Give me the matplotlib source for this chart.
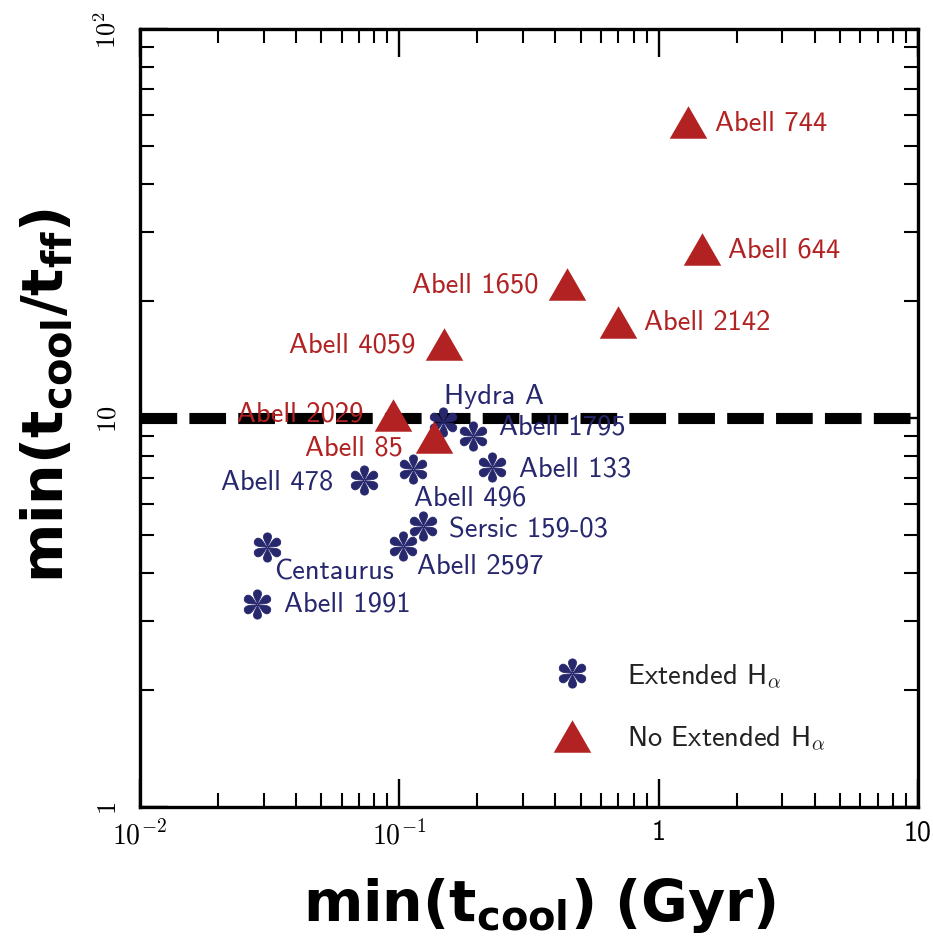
import numpy as np
import matplotlib
matplotlib.use("Agg")
import matplotlib.pyplot as plt
from matplotlib.path import Path

plt.rcParams['mathtext.fontset'] = 'custom'
plt.rcParams['mathtext.bf'] = 'DejaVu Sans:bold'
plt.rcParams['mathtext.rm'] = 'DejaVu Sans:bold'
plt.rcParams['axes.unicode_minus'] = True

RED = '#B22222'
NAVY = '#27276E'

# clusters without extended H-alpha
tri_names = ['Abell 744', 'Abell 644', 'Abell 1650', 'Abell 2142',
             'Abell 4059', 'Abell 2029', 'Abell 85']
tri_tcool = [1.30, 1.47, 0.444, 0.696, 0.149, 0.0946, 0.136]
tri_ratio = [57.5, 27.2, 22.1, 17.7, 15.5, 10.2, 8.94]

# clusters with extended H-alpha
ast_names = ['Hydra A', 'Abell 1795', 'Abell 133', 'Abell 478', 'Abell 496',
             'Sersic 159-03', 'Abell 2597', 'Centaurus', 'Abell 1991']
ast_tcool = [0.147, 0.192, 0.228, 0.0731, 0.113, 0.123, 0.1033, 0.0309, 0.0283]
ast_ratio = [9.77, 8.99, 7.48, 6.93, 7.39, 5.28, 4.69, 4.66, 3.32]

threshold = 10

# label offsets (points) and horizontal alignment per cluster
tri_offsets = [(19, 0, 'left'), (19, 0, 'left'), (-21, 0, 'right'), (19, 0, 'left'),
               (-21, 0, 'right'), (-21, 1, 'right'), (-22, -7, 'right')]
ast_offsets = [(1, 19, 'left'), (19, 7, 'left'), (19, -1, 'left'), (-22, -1, 'right'),
               (1, -20, 'left'), (19, -2, 'left'), (10, -14, 'left'), (5, -17, 'left'),
               (19, 1, 'left')]


def petal_star(n=6, inner=0.05):
    """Six teardrop petals radiating from the centre."""
    t = np.linspace(0, 2 * np.pi, 60)
    px = inner + (1 - inner) * 0.5 * (1 - np.cos(t))
    py = 0.78 * np.sin(t) * np.abs(np.sin(t / 2)) ** 1.6 * 0.5
    paths = []
    for k in range(n):
        a = np.pi / 2 + k * 2 * np.pi / n
        x = px * np.cos(a) - py * np.sin(a)
        y = px * np.sin(a) + py * np.cos(a)
        verts = np.column_stack([x, y])
        verts = np.vstack([verts, verts[:1]])
        codes = [Path.MOVETO] + [Path.LINETO] * (len(verts) - 2) + [Path.CLOSEPOLY]
        paths.append(Path(verts, codes))
    return Path.make_compound_path(*paths)


star = petal_star()
triangle = Path([(-1, -0.866), (1, -0.866), (0, 0.866), (-1, -0.866)],
                [Path.MOVETO, Path.LINETO, Path.LINETO, Path.CLOSEPOLY])

fig = plt.figure(figsize=(9.33, 9.37), dpi=100)
ax = fig.add_axes([0.15, 0.1377, 0.8339, 0.8303])
ax.set_xscale('log')
ax.set_yscale('log')
ax.set_xlim(0.01, 10)
ax.set_ylim(1, 100)

ax.axhline(threshold, color='black', lw=8, dashes=(3.3, 1.1), zorder=1)

ax.plot(ast_tcool, ast_ratio, ls='none', marker=star, ms=21, color=NAVY,
        mec=NAVY, mew=0.6, zorder=3, label=r'Extended H$_\alpha$')
ax.plot(tri_tcool, tri_ratio, ls='none', marker=triangle, ms=27, color=RED,
        mec=RED, mew=0, zorder=3, label=r'No Extended H$_\alpha$')

for name, x, y, (dx, dy, ha) in zip(tri_names, tri_tcool, tri_ratio, tri_offsets):
    ax.annotate(name, (x, y), xytext=(dx, dy), textcoords='offset points',
                ha=ha, va='center', color=RED, fontsize=20.5, family='cmss10',
                zorder=4)
for name, x, y, (dx, dy, ha) in zip(ast_names, ast_tcool, ast_ratio, ast_offsets):
    ax.annotate(name, (x, y), xytext=(dx, dy), textcoords='offset points',
                ha=ha, va='center', color=NAVY, fontsize=20.5, family='cmss10',
                zorder=4)

leg = ax.legend(loc='upper left', bbox_to_anchor=(0.501, 0.22), frameon=False,
                numpoints=1, handlelength=1.2, handletextpad=1.3,
                labelspacing=1.2, prop={'family': 'cmss10', 'size': 20.5})
for t in leg.get_texts():
    t.set_color('#222222')
    t.set_math_fontfamily('cm')

# ticks
ax.set_xticks([0.01, 0.1, 1, 10])
ax.set_xticklabels([r'$\mathsf{10^{-2}}$', r'$\mathsf{10^{-1}}$', '1', '10'])
for t in ax.get_xticklabels():
    t.set_family('cmss10')
    t.set_math_fontfamily('cm')
ax.set_yticks([1, 10, 100])
ax.set_yticklabels([r'$1$', r'$10$', r'$10^2$'], rotation=90, va='center')
for t in ax.get_yticklabels():
    t.set_math_fontfamily('cm')

ax.tick_params(which='both', direction='in', top=True, right=True)
ax.tick_params(which='major', length=20, width=1.7)
ax.tick_params(which='minor', length=10, width=1.5)
ax.tick_params(axis='x', which='major', labelsize=20, pad=9)
ax.tick_params(axis='y', which='major', labelsize=19, pad=13)
for s in ax.spines.values():
    s.set_linewidth(2.4)

ax.set_xlabel(r'$\mathbf{min(t_{cool})\ (Gyr)}$', fontsize=41,
              math_fontfamily='custom')
ax.set_ylabel(r'$\mathbf{min(t_{cool}/t_{ff})}$', fontsize=41,
              math_fontfamily='custom')
ax.xaxis.set_label_coords(0.514, -0.125)
ax.xaxis.label.set_va('center')
ax.yaxis.set_label_coords(-0.12, 0.53)
ax.yaxis.label.set_va('center')

fig.savefig('out.png', dpi=100)
